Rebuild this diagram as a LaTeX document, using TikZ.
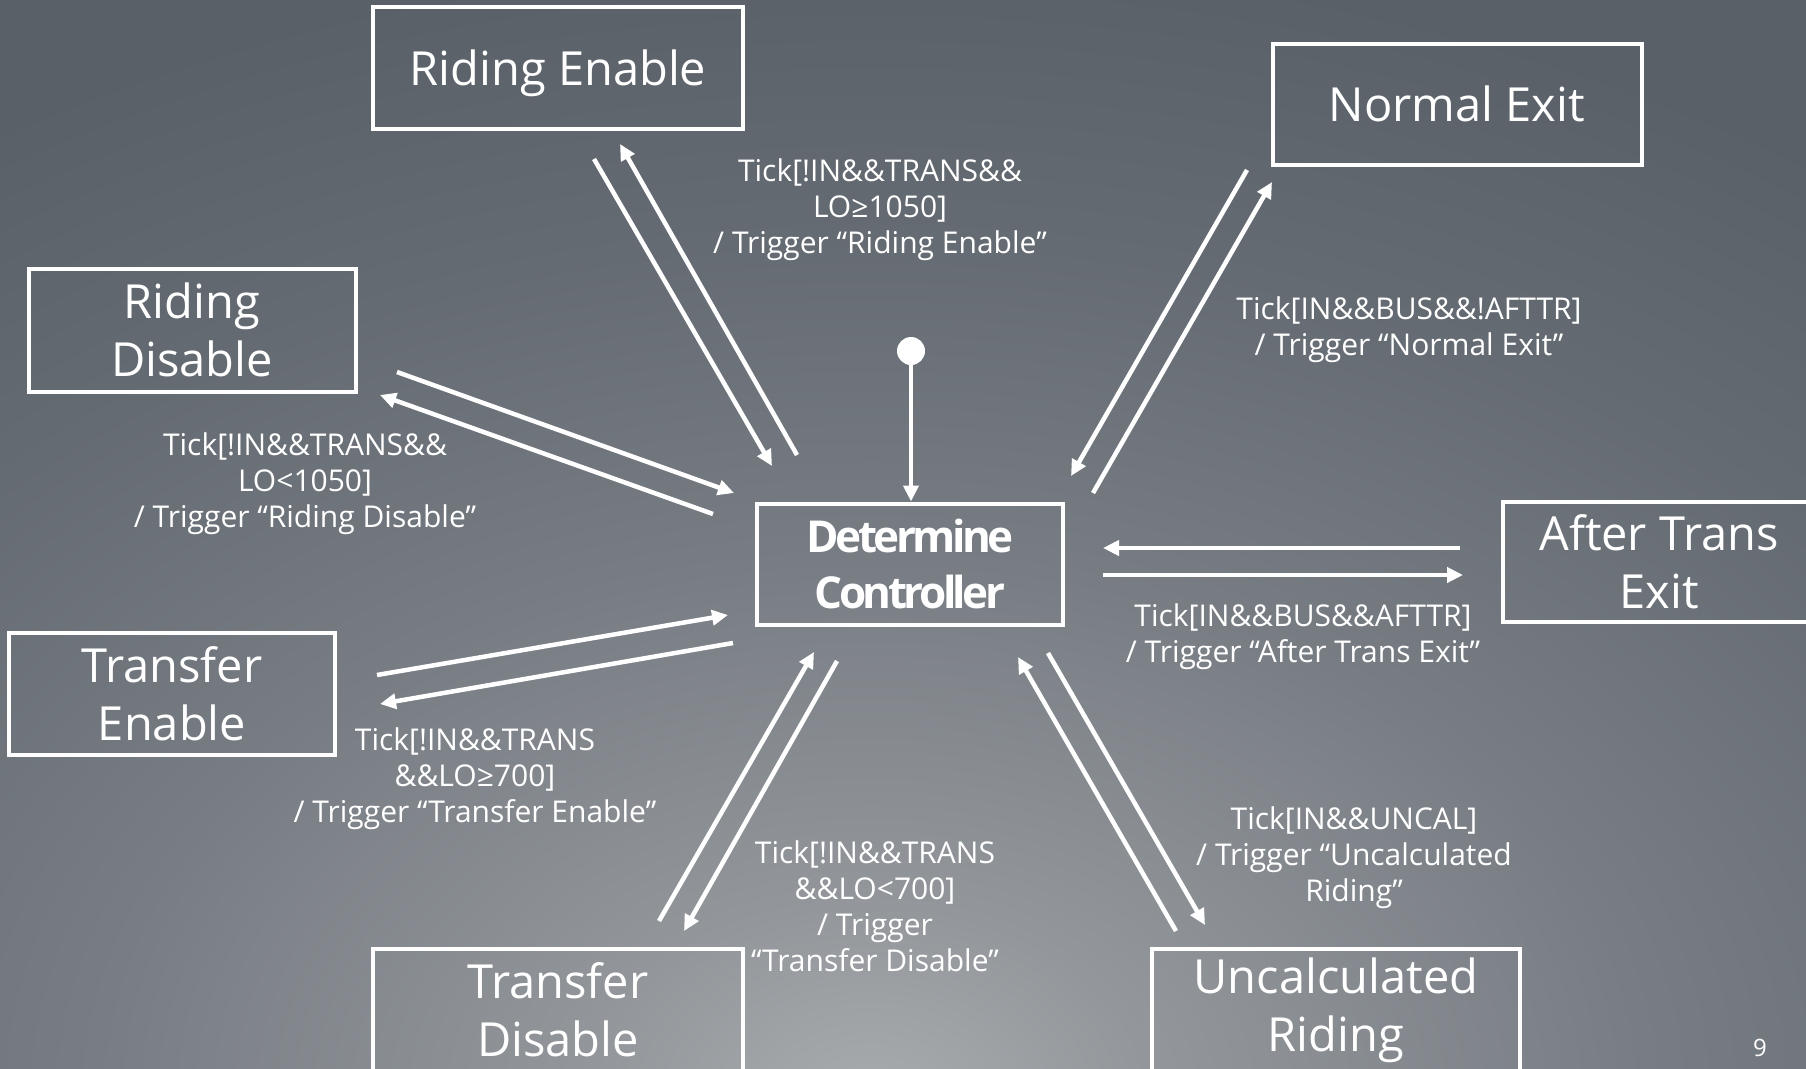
\documentclass[tikz,border=0pt]{standalone}
\usepackage{fontspec}
\setmainfont{Open Sans}
\newfontfamily\detfont[LetterSpace=-8]{Open Sans}
\usetikzlibrary{arrows.meta}
\definecolor{bgA}{RGB}{168,171,174}
\definecolor{bgB}{RGB}{147,151,155}
\definecolor{bgC}{RGB}{120,125,132}
\definecolor{bgD}{RGB}{101,107,114}
\definecolor{bgE}{RGB}{89,96,104}
\pgfdeclareradialshading{bgshade}{\pgfpoint{0bp}{0bp}}{color(0bp)=(bgA); color(4.25bp)=(bgB); color(11.75bp)=(bgC); color(18.75bp)=(bgD); color(25bp)=(bgE); color(50bp)=(bgE)}
\tikzset{
  state/.style={draw=white, line width=4pt, text=white, align=center, inner sep=0pt,
    font=\fontsize{47pt}{58pt}\selectfont},
  lbl/.style={text=white, align=center, inner sep=0pt, font=\fontsize{30pt}{36pt}\selectfont},
  arr/.style={draw=white, line width=4.5pt, -{Triangle[length=16pt,width=15pt]}},
}
\begin{document}
\begin{tikzpicture}[x=1pt,y=-1pt]
\useasboundingbox (0,0) rectangle (1806,1068);
\fill[bgE] (0,0) rectangle (1806,1068);
\begin{scope}
\clip (0,0) rectangle (1806,1068);
\shade[shading=bgshade] (870,1100) ellipse [x radius=1650pt, y radius=1150pt];
\end{scope}

% states
\node[state, minimum width=370pt, minimum height=122pt, text depth=0pt] (re) at (558,68) {Riding Enable};
\node[state, minimum width=369pt, minimum height=121pt, text depth=0pt] (ne) at (1457,104) {Normal Exit};
\node[state, minimum width=327pt, minimum height=123pt] (rd) at (192,330) {Riding\\Disable};
\node[state, minimum width=312pt, minimum height=120pt] (at) at (1659,562) {After Trans\\Exit};
\node[state, minimum width=306pt, minimum height=121pt,
      font=\detfont\bfseries\fontsize{44pt}{56pt}\selectfont] (dc) at (910,564) {Determine\\Controller};
\node[state, minimum width=326pt, minimum height=122pt] (te) at (172,694) {Transfer\\Enable};
\node[state, minimum width=370pt, minimum height=122pt] (td) at (558,1010) {Transfer\\Disable};
\node[state, minimum width=368pt, minimum height=122pt] (ur) at (1336,1010) {Uncalculated\\Riding};

% initial
\node[circle, fill=white, minimum size=28pt, inner sep=0pt] (init) at (911,351) {};
\draw[arr] (init) -- (init |- dc.north);

% endpoints
\coordinate (re1s) at (594,159); \coordinate (re1e) at (772,466);
\coordinate (re2s) at (797,455); \coordinate (re2e) at (620,144);
\coordinate (rd1s) at (397,372); \coordinate (rd1e) at (734,493);
\coordinate (rd2s) at (713,514); \coordinate (rd2e) at (380,395);
\coordinate (ne1s) at (1247,170); \coordinate (ne1e) at (1071,476);
\coordinate (ne2s) at (1093,493); \coordinate (ne2e) at (1272,182);
\coordinate (at1s) at (1460,548); \coordinate (at1e) at (1103,548);
\coordinate (at2s) at (1103,575); \coordinate (at2e) at (1463,575);
\coordinate (te1s) at (377,675); \coordinate (te1e) at (728,615);
\coordinate (te2s) at (733,643); \coordinate (te2e) at (380,704);
\coordinate (td1s) at (659,921); \coordinate (td1e) at (814,652);
\coordinate (td2s) at (837,661); \coordinate (td2e) at (684,931);
\coordinate (ur1s) at (1176,931); \coordinate (ur1e) at (1018,657);
\coordinate (ur2s) at (1048,653); \coordinate (ur2e) at (1205,925);

\draw[arr] (re1s) -- (re1e); \draw[arr] (re2s) -- (re2e);
\draw[arr] (rd1s) -- (rd1e); \draw[arr] (rd2s) -- (rd2e);
\draw[arr] (ne1s) -- (ne1e); \draw[arr] (ne2s) -- (ne2e);
\draw[arr] (at1s) -- (at1e); \draw[arr] (at2s) -- (at2e);
\draw[arr] (te1s) -- (te1e); \draw[arr] (te2s) -- (te2e);
\draw[arr] (td1s) -- (td1e); \draw[arr] (td2s) -- (td2e);
\draw[arr] (ur1s) -- (ur1e); \draw[arr] (ur2s) -- (ur2e);

% labels
\node[lbl] (lre) at (880,210) {Tick[!IN\&\&TRANS\&\&\\LO≥1050]\\/ Trigger “Riding Enable”};
\node[lbl] (lne) at (1409,330) {Tick[IN\&\&BUS\&\&!AFTTR]\\/ Trigger “Normal Exit”};
\node[lbl] (lrd) at (305,484) {Tick[!IN\&\&TRANS\&\&\\LO<1050]\\/ Trigger “Riding Disable”};
\node[lbl] (lat) at (1303,637) {Tick[IN\&\&BUS\&\&AFTTR]\\/ Trigger “After Trans Exit”};
\node[lbl] (lte) at (475,779) {Tick[!IN\&\&TRANS\\\&\&LO≥700]\\/ Trigger “Transfer Enable”};
\node[lbl] (ltd) at (875,906) {Tick[!IN\&\&TRANS\\\&\&LO<700]\\/ Trigger\\“Transfer Disable”};
\node[lbl] (lur) at (1354,858) {Tick[IN\&\&UNCAL]\\/ Trigger “Uncalculated\\Riding”};

\node[text=white, font=\fontsize{24pt}{28pt}\selectfont, inner sep=0pt] (pg) at (1760,1048) {9};
\end{tikzpicture}
\end{document}
